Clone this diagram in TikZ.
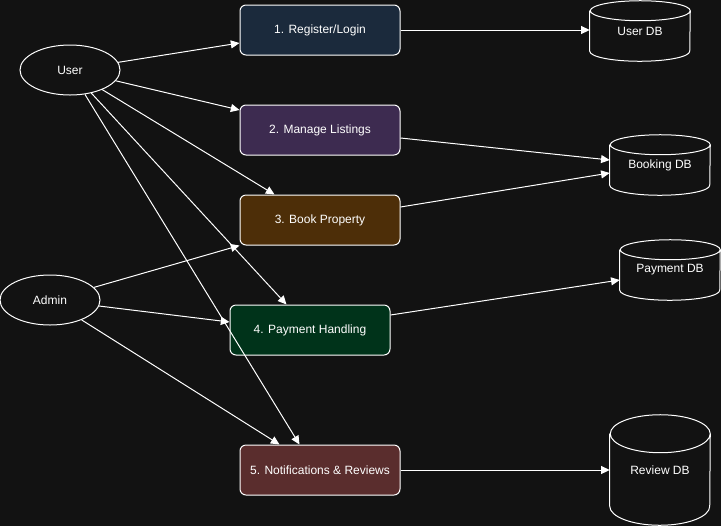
\documentclass[tikz,border=0pt]{standalone}
\usepackage{fontspec}
\setmainfont{Liberation Sans}
\usetikzlibrary{shapes.geometric, arrows.meta, positioning, calc}

\definecolor{bgdark}{HTML}{121212}
\definecolor{regfill}{HTML}{1B2A3C}
\definecolor{listfill}{HTML}{3D2B50}
\definecolor{bookfill}{HTML}{4D2E08}
\definecolor{payfill}{HTML}{00331A}
\definecolor{notifill}{HTML}{5A2D2D}

\begin{document}
\begin{tikzpicture}[
    x=0.75pt, y=-0.75pt,
    font=\fontsize{9}{11}\selectfont, text=white,
    actor/.style={ellipse, minimum width=75pt, minimum height=37.5pt, draw=white, line width=0.75pt, text centered},
    process/.style={rectangle, rounded corners=4.5pt, minimum width=120pt, minimum height=37.5pt, text centered, draw=white, line width=0.75pt},
    dbline/.style={draw=white, line width=0.75pt},
    database/.style 2 args={rectangle, minimum width=75pt, minimum height=#1, text centered,
        append after command={\pgfextra{\draw[dbline]
            ([yshift=-#2]\tikzlastnode.north west) -- ([yshift=#2]\tikzlastnode.south west)
            arc[start angle=180, end angle=360, x radius=37.5pt, y radius=#2]
            -- ([yshift=-#2]\tikzlastnode.north east)
            arc[start angle=0, end angle=180, x radius=37.5pt, y radius=#2]
            arc[start angle=180, end angle=360, x radius=37.5pt, y radius=#2];}}},
    arrow/.style={-{Triangle[length=6.5pt,width=6pt]}, draw=white, line width=0.75pt}
]

% Background
\fill[bgdark] (0,0) rectangle (721,526);
\useasboundingbox (0,0) rectangle (721,526);

% Actors
\node[actor] (user) at (70,70) {User};
\node[actor] (admin) at (50,300) {Admin};

% Processes
\node[process, fill=regfill] (register) at (320,30) {1. Register/Login};
\node[process, fill=listfill] (listings) at (320,130) {2. Manage Listings};
\node[process, fill=bookfill] (booking) at (320,220) {3. Book Property};
\node[process, fill=payfill] (payment) at (310,330) {4. Payment Handling};
\node[process, fill=notifill] (notify) at (320,470) {5. Notifications \& Reviews};

% Data stores
\node[database={45pt}{7.5pt}] (userdb) at (640,31) {User DB};
\node[database={45pt}{7.5pt}] (bookingdb) at (660,165) {Booking DB};
\node[database={45pt}{7.5pt}] (paymentdb) at (670,270) {Payment DB};
\node[database={82.5pt}{14.25pt}] (reviewdb) at (660,470) {Review DB};

% User flows
\draw[arrow] (user) -- ($(register.west)+(0,13)$);
\draw[arrow] (user) -- ($(listings.west)+(0,-20)$);
\draw[arrow] (user) -- ($(booking.north west)+(35,0)$);
\draw[arrow] (user) -- ($(payment.north west)+(57,0)$);
\draw[arrow] (user) -- ($(notify.north west)+(60,0)$);

% Admin flows
\draw[arrow] (admin) -- (booking.south west);
\draw[arrow] (admin) -- ($(payment.west)+(0,-8)$);
\draw[arrow] (admin) -- ($(notify.north west)+(40,0)$);

% Process to data store
\draw[arrow] (register.east) -- ($(userdb.west)+(0,-1)$);
\draw[arrow] ($(listings.east)+(0,8)$) -- ($(bookingdb.west)+(0,-5)$);
\draw[arrow] ($(booking.east)+(0,-13)$) -- ($(bookingdb.west)+(0,8)$);
\draw[arrow] ($(payment.east)+(0,-15)$) -- ($(paymentdb.west)+(0,10)$);
\draw[arrow] (notify) -- (reviewdb);

\end{tikzpicture}
\end{document}
